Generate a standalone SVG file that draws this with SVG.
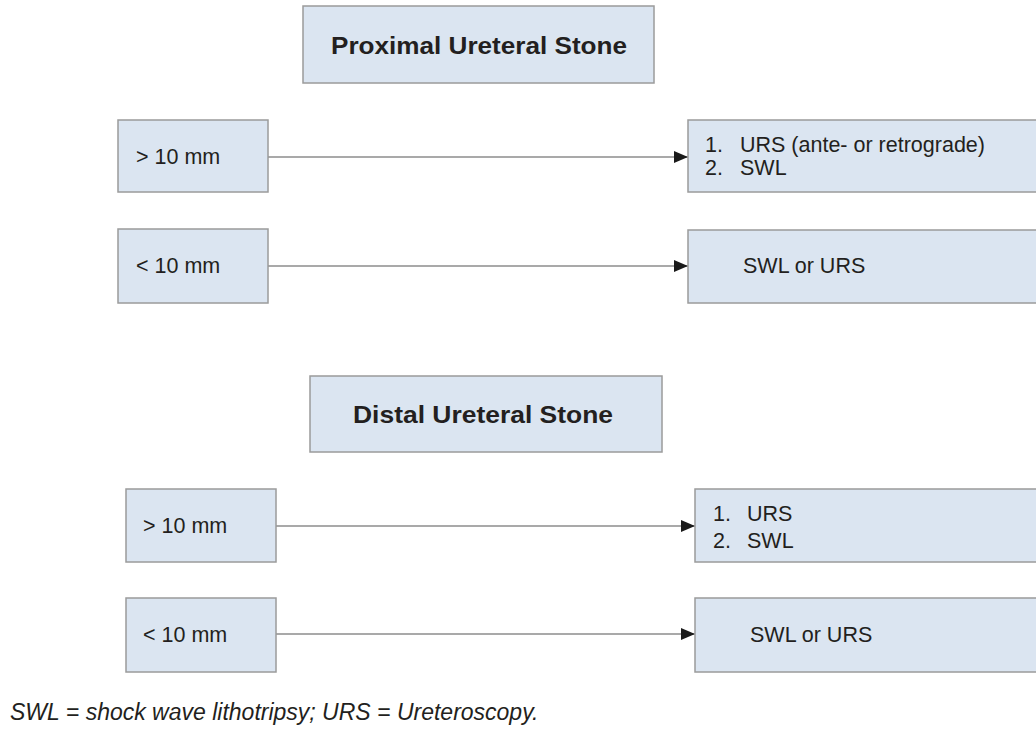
<svg xmlns="http://www.w3.org/2000/svg" width="1036" height="729" viewBox="0 0 1036 729">
<defs>
<style>
.box{fill:#dbe5f1;stroke:#9b9b9b;stroke-width:1.5}
.t{font-family:"Liberation Sans",Arial,sans-serif;font-size:21.5px;fill:#231f20}
.h{font-family:"Liberation Sans",Arial,sans-serif;font-size:24px;font-weight:bold;fill:#231f20}
.f{font-family:"Liberation Sans",Arial,sans-serif;font-size:23px;font-style:italic;fill:#231f20}
.c{stroke:#8c8c8c;stroke-width:1.5;fill:none;marker-end:url(#ah)}
</style>
<marker id="ah" viewBox="0 0 14 12" refX="14" refY="6" markerWidth="14" markerHeight="12" markerUnits="userSpaceOnUse" orient="auto">
<path d="M0,0 L14,6 L0,12 Z" fill="#1a1a1a"/>
</marker>
</defs>
<rect width="1036" height="729" fill="#ffffff"/>
<g id="connectors">
<line class="c" x1="268" y1="157" x2="688" y2="157"/>
<line class="c" x1="268" y1="266" x2="688" y2="266"/>
<line class="c" x1="276" y1="526" x2="695" y2="526"/>
<line class="c" x1="276" y1="634" x2="695" y2="634"/>
</g>
<g id="proximal-title">
<rect class="box" x="303" y="6" width="351" height="77"/>
<text class="h" x="479" y="54" text-anchor="middle" textLength="296" lengthAdjust="spacingAndGlyphs">Proximal Ureteral Stone</text>
</g>
<g id="prox-gt10">
<rect class="box" x="118" y="120" width="150" height="72"/>
<text class="t" x="136" y="164">&gt; 10 mm</text>
</g>
<g id="prox-lt10">
<rect class="box" x="118" y="229" width="150" height="74"/>
<text class="t" x="136" y="273">&lt; 10 mm</text>
</g>
<g id="prox-gt10-result">
<rect class="box" x="688" y="120" width="352" height="72"/>
<text class="t" x="705" y="152">1.</text>
<text class="t" x="740" y="152">URS (ante- or retrograde)</text>
<text class="t" x="705" y="175">2.</text>
<text class="t" x="740" y="175">SWL</text>
</g>
<g id="prox-lt10-result">
<rect class="box" x="688" y="230" width="352" height="73"/>
<text class="t" x="743" y="273">SWL or URS</text>
</g>
<g id="distal-title">
<rect class="box" x="310" y="376" width="352" height="76"/>
<text class="h" x="483" y="423" text-anchor="middle" textLength="260" lengthAdjust="spacingAndGlyphs">Distal Ureteral Stone</text>
</g>
<g id="dist-gt10">
<rect class="box" x="126" y="489" width="150" height="73"/>
<text class="t" x="143" y="533">&gt; 10 mm</text>
</g>
<g id="dist-lt10">
<rect class="box" x="126" y="598" width="150" height="74"/>
<text class="t" x="143" y="642">&lt; 10 mm</text>
</g>
<g id="dist-gt10-result">
<rect class="box" x="695" y="489" width="345" height="73"/>
<text class="t" x="713" y="521">1.</text>
<text class="t" x="747" y="521">URS</text>
<text class="t" x="713" y="548">2.</text>
<text class="t" x="747" y="548">SWL</text>
</g>
<g id="dist-lt10-result">
<rect class="box" x="695" y="598" width="345" height="74"/>
<text class="t" x="750" y="642">SWL or URS</text>
</g>
<text class="f" x="10" y="720">SWL = shock wave lithotripsy; URS = Ureteroscopy.</text>
</svg>
